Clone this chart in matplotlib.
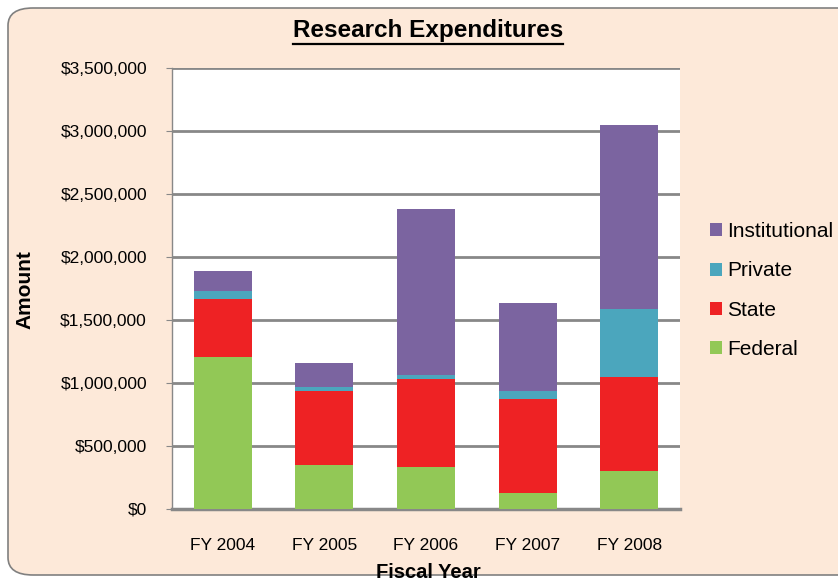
import matplotlib
matplotlib.use("Agg")
import matplotlib.pyplot as plt
from matplotlib.patches import FancyBboxPatch, Patch
from matplotlib.ticker import FuncFormatter
import numpy as np

plt.rcParams['font.family'] = ['Liberation Sans', 'DejaVu Sans']

years = ["FY 2004", "FY 2005", "FY 2006", "FY 2007", "FY 2008"]
federal = [1206000, 349000, 336000, 127000, 302000]
state = [461000, 588000, 696000, 746000, 746000]
private = [63000, 31000, 31000, 67000, 539000]
institutional = [159000, 191000, 1318000, 695000, 1461000]

series = [("Federal", federal, "#92C856"),
          ("State", state, "#EE2224"),
          ("Private", private, "#4BA6BD"),
          ("Institutional", institutional, "#7B64A0")]

W, H = 838, 583
fig = plt.figure(figsize=(W / 100, H / 100), dpi=100)
fig.patch.set_facecolor("white")
bg = FancyBboxPatch((8 / W, 8 / H), 860 / W, 567 / H,
                    boxstyle="round,pad=0,rounding_size=0.03",
                    transform=fig.transFigure, facecolor="#FDE9D9",
                    edgecolor="#808080", linewidth=1.2, zorder=-10)
fig.patches.append(bg)

ax = fig.add_axes([172 / W, (H - 509) / H, 508 / W, 441 / H])
ax.set_facecolor("white")
x = np.arange(len(years))
bottom = np.zeros(len(years))
for name, vals, col in series:
    ax.bar(x, vals, width=0.57, bottom=bottom, color=col, label=name, zorder=3)
    bottom += np.array(vals)

ax.set_xlim(-0.5, len(years) - 0.5)
ax.set_ylim(0, 3500000)
ax.set_yticks(np.arange(0, 3500001, 500000))
ax.yaxis.set_major_formatter(FuncFormatter(lambda v, p: "${:,.0f}".format(v)))
ax.set_xticks(x)
ax.set_xticklabels(years)
ax.grid(axis="y", color="#888888", linewidth=2, zorder=0)
for s in ["top", "right"]:
    ax.spines[s].set_visible(False)
ax.spines["left"].set_color("#888888")
ax.spines["left"].set_linewidth(1.0)
ax.spines["bottom"].set_color("#888888")
ax.spines["bottom"].set_linewidth(2.5)
ax.tick_params(axis="y", labelsize=12.5, length=4, color="#888888", pad=14)
ax.tick_params(axis="x", labelsize=12.5, length=0, pad=21)

fig.text(25 / W, 1 - 290 / H, "Amount", rotation=90, ha="center", va="center",
         fontsize=15, fontweight="bold")
fig.text(428 / W, 1 - 572 / H, "Fiscal Year", ha="center", va="center",
         fontsize=14.5, fontweight="bold")
title = fig.text(428 / W, 1 - 31 / H, "Research Expenditures", ha="center",
                 va="center", fontsize=17.5, fontweight="bold")
fig.canvas.draw()
bb = title.get_window_extent(fig.canvas.get_renderer())
fig.add_artist(plt.Line2D([bb.x0 / W, bb.x1 / W], [1 - 44 / H, 1 - 44 / H],
                          color="black", linewidth=1.6,
                          transform=fig.transFigure))

handles = [Patch(facecolor=c, label=n) for n, v, c in series][::-1]
fig.legend(handles=handles, loc="upper left",
           bbox_to_anchor=(710 / W, 1 - 222 / H), frameon=False,
           fontsize=15, handlelength=0.58, handleheight=0.58,
           handletextpad=0.25, labelspacing=0.98,
           borderaxespad=0, borderpad=0)

fig.savefig("out.png", dpi=100)
